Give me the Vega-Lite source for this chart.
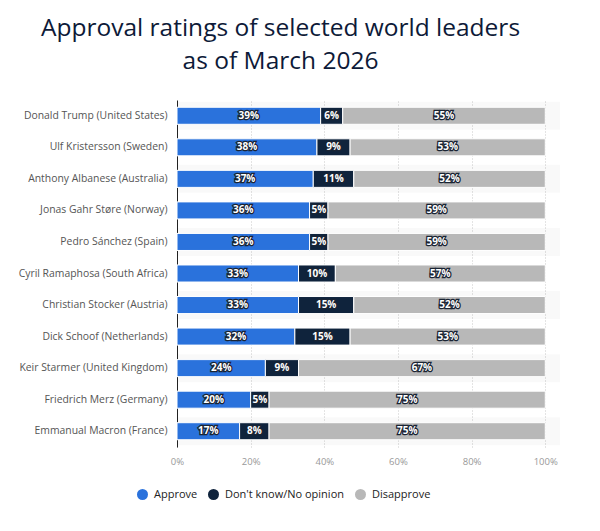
{
  "$schema": "https://vega.github.io/schema/vega-lite/v6.json",
  "autosize": {"type": "none"},
  "padding": {"left": 177, "top": 100, "right": 40, "bottom": 84},
  "width": 383,
  "height": 347,
  "background": "white",
  "config": {
    "font": "Open Sans",
    "view": {"stroke": null}
  },
  "title": {
    "text": ["Approval ratings of selected world leaders", "as of March 2026"],
    "anchor": "middle",
    "frame": "group",
    "dx": -88,
    "offset": 26,
    "fontSize": 24.5,
    "fontWeight": 500,
    "lineHeight": 33,
    "color": "#0d1a38",
    "font": "Open Sans"
  },
  "datasets": {
    "ratings": [
      {"leader": "Donald Trump (United States)", "series": "Approve", "idx": 1, "value": 0.39},
      {"leader": "Donald Trump (United States)", "series": "Don't know/No opinion", "idx": 2, "value": 0.06},
      {"leader": "Donald Trump (United States)", "series": "Disapprove", "idx": 3, "value": 0.55},
      {"leader": "Ulf Kristersson (Sweden)", "series": "Approve", "idx": 1, "value": 0.38},
      {"leader": "Ulf Kristersson (Sweden)", "series": "Don't know/No opinion", "idx": 2, "value": 0.09},
      {"leader": "Ulf Kristersson (Sweden)", "series": "Disapprove", "idx": 3, "value": 0.53},
      {"leader": "Anthony Albanese (Australia)", "series": "Approve", "idx": 1, "value": 0.37},
      {"leader": "Anthony Albanese (Australia)", "series": "Don't know/No opinion", "idx": 2, "value": 0.11},
      {"leader": "Anthony Albanese (Australia)", "series": "Disapprove", "idx": 3, "value": 0.52},
      {"leader": "Jonas Gahr Støre (Norway)", "series": "Approve", "idx": 1, "value": 0.36},
      {"leader": "Jonas Gahr Støre (Norway)", "series": "Don't know/No opinion", "idx": 2, "value": 0.05},
      {"leader": "Jonas Gahr Støre (Norway)", "series": "Disapprove", "idx": 3, "value": 0.59},
      {"leader": "Pedro Sánchez (Spain)", "series": "Approve", "idx": 1, "value": 0.36},
      {"leader": "Pedro Sánchez (Spain)", "series": "Don't know/No opinion", "idx": 2, "value": 0.05},
      {"leader": "Pedro Sánchez (Spain)", "series": "Disapprove", "idx": 3, "value": 0.59},
      {"leader": "Cyril Ramaphosa (South Africa)", "series": "Approve", "idx": 1, "value": 0.33},
      {"leader": "Cyril Ramaphosa (South Africa)", "series": "Don't know/No opinion", "idx": 2, "value": 0.10},
      {"leader": "Cyril Ramaphosa (South Africa)", "series": "Disapprove", "idx": 3, "value": 0.57},
      {"leader": "Christian Stocker (Austria)", "series": "Approve", "idx": 1, "value": 0.33},
      {"leader": "Christian Stocker (Austria)", "series": "Don't know/No opinion", "idx": 2, "value": 0.15},
      {"leader": "Christian Stocker (Austria)", "series": "Disapprove", "idx": 3, "value": 0.52},
      {"leader": "Dick Schoof (Netherlands)", "series": "Approve", "idx": 1, "value": 0.32},
      {"leader": "Dick Schoof (Netherlands)", "series": "Don't know/No opinion", "idx": 2, "value": 0.15},
      {"leader": "Dick Schoof (Netherlands)", "series": "Disapprove", "idx": 3, "value": 0.53},
      {"leader": "Keir Starmer (United Kingdom)", "series": "Approve", "idx": 1, "value": 0.24},
      {"leader": "Keir Starmer (United Kingdom)", "series": "Don't know/No opinion", "idx": 2, "value": 0.09},
      {"leader": "Keir Starmer (United Kingdom)", "series": "Disapprove", "idx": 3, "value": 0.67},
      {"leader": "Friedrich Merz (Germany)", "series": "Approve", "idx": 1, "value": 0.20},
      {"leader": "Friedrich Merz (Germany)", "series": "Don't know/No opinion", "idx": 2, "value": 0.05},
      {"leader": "Friedrich Merz (Germany)", "series": "Disapprove", "idx": 3, "value": 0.75},
      {"leader": "Emmanual Macron (France)", "series": "Approve", "idx": 1, "value": 0.17},
      {"leader": "Emmanual Macron (France)", "series": "Don't know/No opinion", "idx": 2, "value": 0.08},
      {"leader": "Emmanual Macron (France)", "series": "Disapprove", "idx": 3, "value": 0.75}
    ]
  },
  "data": {"name": "ratings"},
  "transform": [
    {
      "stack": "value",
      "groupby": ["leader"],
      "sort": [{"field": "idx", "order": "ascending"}],
      "as": ["v0", "v1"]
    },
    {"calculate": "(datum.v0 + datum.v1) / 2", "as": "mid"}
  ],
  "encoding": {
    "y": {
      "field": "leader",
      "type": "nominal",
      "sort": null,
      "title": null,
      "scale": {
        "domain": [
          "Donald Trump (United States)",
          "Ulf Kristersson (Sweden)",
          "Anthony Albanese (Australia)",
          "Jonas Gahr Støre (Norway)",
          "Pedro Sánchez (Spain)",
          "Cyril Ramaphosa (South Africa)",
          "Christian Stocker (Austria)",
          "Dick Schoof (Netherlands)",
          "Keir Starmer (United Kingdom)",
          "Friedrich Merz (Germany)",
          "Emmanual Macron (France)"
        ],
        "paddingInner": 0.46,
        "paddingOuter": 0.23
      },
      "axis": {
        "domain": true,
        "domainColor": "#222222",
        "domainWidth": 1,
        "ticks": false,
        "labelPadding": 10,
        "labelColor": "#555555",
        "labelFontSize": 10.4,
        "labelFont": "Open Sans"
      }
    }
  },
  "layer": [
    {
      "transform": [
        {"filter": {"field": "series", "equal": "Approve"}},
        {"filter": {"field": "leader", "oneOf": [
          "Donald Trump (United States)",
          "Anthony Albanese (Australia)",
          "Pedro Sánchez (Spain)",
          "Christian Stocker (Austria)",
          "Keir Starmer (United Kingdom)",
          "Emmanual Macron (France)"
        ]}}
      ],
      "mark": {"type": "bar", "color": "#000000", "opacity": 0.025, "size": 28},
      "encoding": {
        "x": {"datum": 0, "type": "quantitative"},
        "x2": {"datum": 1.04}
      }
    },
    {
      "mark": {"type": "bar", "stroke": "white", "strokeWidth": 1},
      "encoding": {
        "x": {
          "field": "v0",
          "type": "quantitative",
          "title": null,
          "scale": {"domain": [0, 1.04], "nice": false},
          "axis": {
            "values": [0, 0.2, 0.4, 0.6, 0.8, 1],
            "format": ".0%",
            "domain": false,
            "ticks": false,
            "grid": true,
            "gridDash": [1, 2],
            "gridColor": "#c8c8c8",
            "labelColor": "#999999",
            "labelFontSize": 9.5,
            "labelPadding": 9,
            "labelFlush": false,
            "labelFont": "Open Sans"
          }
        },
        "x2": {"field": "v1"},
        "color": {
          "field": "series",
          "type": "nominal",
          "sort": ["Approve", "Don't know/No opinion", "Disapprove"],
          "scale": {
            "domain": ["Approve", "Don't know/No opinion", "Disapprove"],
            "range": ["#2a72dc", "#0f233c", "#b8b8b8"]
          },
          "legend": {
            "title": null,
            "orient": "none",
            "direction": "horizontal",
            "legendX": -40,
            "legendY": 389,
            "symbolType": "circle",
            "symbolSize": 121,
            "symbolStrokeWidth": 0,
            "labelFontSize": 11,
            "labelColor": "#222222",
            "labelFont": "Open Sans",
            "labelOffset": 6,
            "columnPadding": 10,
            "padding": 0
          }
        }
      }
    },
    {
      "mark": {
        "type": "text",
        "fontSize": 10,
        "fontWeight": "bold",
        "font": "Open Sans",
        "stroke": "#1a2433",
        "strokeWidth": 2.5,
        "fill": "#1a2433",
        "baseline": "middle"
      },
      "encoding": {
        "x": {"field": "mid", "type": "quantitative"},
        "text": {"field": "value", "type": "quantitative", "format": ".0%"}
      }
    },
    {
      "mark": {
        "type": "text",
        "fontSize": 10,
        "fontWeight": "bold",
        "font": "Open Sans",
        "fill": "white",
        "baseline": "middle"
      },
      "encoding": {
        "x": {"field": "mid", "type": "quantitative"},
        "text": {"field": "value", "type": "quantitative", "format": ".0%"}
      }
    }
  ]
}
